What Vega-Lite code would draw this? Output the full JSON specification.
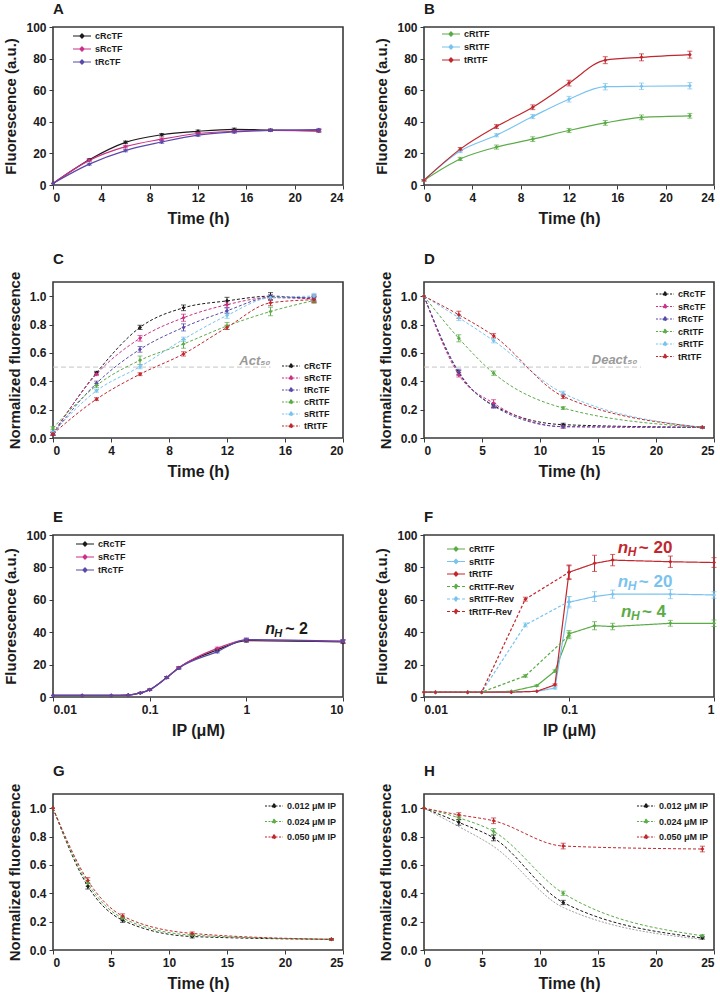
{
"$schema": "https://vega.github.io/schema/vega-lite/v6.json",
"padding": {"left": 3, "top": 1, "right": 5, "bottom": 2},
"bounds": "flush",
"columns": 2,
"spacing": {"row": 97, "column": 81},
"resolve": {"scale": {"color": "independent", "strokeDash": "independent"}, "legend": {"color": "independent", "strokeDash": "independent"}},
"datasets": {
"A": [
{"s":"cRcTF","x":0,"y":1,"e":0},{"s":"cRcTF","x":3,"y":16,"e":0.6},{"s":"cRcTF","x":6,"y":27,"e":0.8},{"s":"cRcTF","x":9,"y":31.8,"e":0.8},{"s":"cRcTF","x":12,"y":34,"e":0.8},{"s":"cRcTF","x":15,"y":35.2,"e":0.8},{"s":"cRcTF","x":18,"y":34.8,"e":0.6},{"s":"cRcTF","x":22,"y":34.3,"e":0.8},
{"s":"sRcTF","x":0,"y":1,"e":0},{"s":"sRcTF","x":3,"y":15.6,"e":0.6},{"s":"sRcTF","x":6,"y":24.3,"e":0.8},{"s":"sRcTF","x":9,"y":29,"e":0.8},{"s":"sRcTF","x":12,"y":32.6,"e":0.8},{"s":"sRcTF","x":15,"y":34,"e":0.8},{"s":"sRcTF","x":18,"y":34.6,"e":0.6},{"s":"sRcTF","x":22,"y":34.3,"e":0.8},
{"s":"tRcTF","x":0,"y":1,"e":0},{"s":"tRcTF","x":3,"y":13.2,"e":0.6},{"s":"tRcTF","x":6,"y":21.8,"e":0.8},{"s":"tRcTF","x":9,"y":27.2,"e":0.8},{"s":"tRcTF","x":12,"y":31.6,"e":0.8},{"s":"tRcTF","x":15,"y":33.6,"e":0.8},{"s":"tRcTF","x":18,"y":34.6,"e":0.6},{"s":"tRcTF","x":22,"y":35,"e":0.8}
],
"B": [
{"s":"cRtTF","x":0,"y":3,"e":0.5},{"s":"cRtTF","x":3,"y":16.5,"e":1},{"s":"cRtTF","x":6,"y":24,"e":1.3},{"s":"cRtTF","x":9,"y":29,"e":1.5},{"s":"cRtTF","x":12,"y":34.5,"e":1.3},{"s":"cRtTF","x":15,"y":39.3,"e":1.5},{"s":"cRtTF","x":18,"y":42.8,"e":1.5},{"s":"cRtTF","x":22,"y":43.8,"e":1.5},
{"s":"sRtTF","x":0,"y":3,"e":0.5},{"s":"sRtTF","x":3,"y":21.5,"e":1},{"s":"sRtTF","x":6,"y":31.5,"e":1},{"s":"sRtTF","x":9,"y":43.3,"e":1.3},{"s":"sRtTF","x":12,"y":54.3,"e":1.8},{"s":"sRtTF","x":15,"y":62.2,"e":2},{"s":"sRtTF","x":18,"y":62.5,"e":2},{"s":"sRtTF","x":22,"y":62.8,"e":2},
{"s":"tRtTF","x":0,"y":3,"e":0.5},{"s":"tRtTF","x":3,"y":22.7,"e":1},{"s":"tRtTF","x":6,"y":37,"e":1.2},{"s":"tRtTF","x":9,"y":49.2,"e":1.5},{"s":"tRtTF","x":12,"y":64.5,"e":1.8},{"s":"tRtTF","x":15,"y":79,"e":2.2},{"s":"tRtTF","x":18,"y":80.8,"e":2.2},{"s":"tRtTF","x":22,"y":82.5,"e":2.2}
],
"C": [
{"s":"cRcTF","x":0,"y":0.03,"e":0.01},{"s":"cRcTF","x":3,"y":0.46,"e":0.01},{"s":"cRcTF","x":6,"y":0.78,"e":0.015},{"s":"cRcTF","x":9,"y":0.918,"e":0.02},{"s":"cRcTF","x":12,"y":0.967,"e":0.025},{"s":"cRcTF","x":15,"y":1.0,"e":0.025},{"s":"cRcTF","x":18,"y":0.98,"e":0.02},
{"s":"sRcTF","x":0,"y":0.03,"e":0.01},{"s":"sRcTF","x":3,"y":0.45,"e":0.01},{"s":"sRcTF","x":6,"y":0.703,"e":0.02},{"s":"sRcTF","x":9,"y":0.848,"e":0.025},{"s":"sRcTF","x":12,"y":0.94,"e":0.02},{"s":"sRcTF","x":15,"y":0.99,"e":0.02},{"s":"sRcTF","x":18,"y":0.98,"e":0.02},
{"s":"tRcTF","x":0,"y":0.03,"e":0.01},{"s":"tRcTF","x":3,"y":0.386,"e":0.015},{"s":"tRcTF","x":6,"y":0.625,"e":0.02},{"s":"tRcTF","x":9,"y":0.78,"e":0.025},{"s":"tRcTF","x":12,"y":0.897,"e":0.02},{"s":"tRcTF","x":15,"y":0.99,"e":0.02},{"s":"tRcTF","x":18,"y":0.99,"e":0.02},
{"s":"cRtTF","x":0,"y":0.07,"e":0.01},{"s":"cRtTF","x":3,"y":0.37,"e":0.015},{"s":"cRtTF","x":6,"y":0.548,"e":0.03},{"s":"cRtTF","x":9,"y":0.663,"e":0.03},{"s":"cRtTF","x":12,"y":0.79,"e":0.025},{"s":"cRtTF","x":15,"y":0.892,"e":0.03},{"s":"cRtTF","x":18,"y":0.97,"e":0.02},
{"s":"sRtTF","x":0,"y":0.04,"e":0.01},{"s":"sRtTF","x":3,"y":0.333,"e":0.01},{"s":"sRtTF","x":6,"y":0.503,"e":0.015},{"s":"sRtTF","x":9,"y":0.696,"e":0.015},{"s":"sRtTF","x":12,"y":0.864,"e":0.02},{"s":"sRtTF","x":15,"y":0.99,"e":0.02},{"s":"sRtTF","x":18,"y":1.0,"e":0.02},
{"s":"tRtTF","x":0,"y":0.03,"e":0.01},{"s":"tRtTF","x":3,"y":0.274,"e":0.01},{"s":"tRtTF","x":6,"y":0.45,"e":0.01},{"s":"tRtTF","x":9,"y":0.593,"e":0.015},{"s":"tRtTF","x":12,"y":0.78,"e":0.015},{"s":"tRtTF","x":15,"y":0.953,"e":0.02},{"s":"tRtTF","x":18,"y":0.975,"e":0.02}
],
"D": [
{"s":"cRcTF","x":0,"y":1,"e":0},{"s":"cRcTF","x":3,"y":0.46,"e":0.015},{"s":"cRcTF","x":6,"y":0.23,"e":0.015},{"s":"cRcTF","x":12,"y":0.094,"e":0.01},{"s":"cRcTF","x":24,"y":0.075,"e":0.005},
{"s":"sRcTF","x":0,"y":1,"e":0},{"s":"sRcTF","x":3,"y":0.445,"e":0.015},{"s":"sRcTF","x":6,"y":0.245,"e":0.025},{"s":"sRcTF","x":12,"y":0.08,"e":0.01},{"s":"sRcTF","x":24,"y":0.075,"e":0.005},
{"s":"tRcTF","x":0,"y":1,"e":0},{"s":"tRcTF","x":3,"y":0.465,"e":0.02},{"s":"tRcTF","x":6,"y":0.225,"e":0.015},{"s":"tRcTF","x":12,"y":0.08,"e":0.01},{"s":"tRcTF","x":24,"y":0.075,"e":0.005},
{"s":"cRtTF","x":0,"y":1,"e":0},{"s":"cRtTF","x":3,"y":0.703,"e":0.025},{"s":"cRtTF","x":6,"y":0.457,"e":0.015},{"s":"cRtTF","x":12,"y":0.211,"e":0.01},{"s":"cRtTF","x":24,"y":0.075,"e":0.005},
{"s":"sRtTF","x":0,"y":1,"e":0},{"s":"sRtTF","x":3,"y":0.848,"e":0.02},{"s":"sRtTF","x":6,"y":0.686,"e":0.015},{"s":"sRtTF","x":12,"y":0.315,"e":0.015},{"s":"sRtTF","x":24,"y":0.075,"e":0.005},
{"s":"tRtTF","x":0,"y":1,"e":0},{"s":"tRtTF","x":3,"y":0.869,"e":0.025},{"s":"tRtTF","x":6,"y":0.721,"e":0.015},{"s":"tRtTF","x":12,"y":0.293,"e":0.015},{"s":"tRtTF","x":24,"y":0.075,"e":0.005}
],
"E": [
{"s":"cRcTF","x":0.01,"y":1,"e":0},{"s":"cRcTF","x":0.02,"y":1,"e":0},{"s":"cRcTF","x":0.04,"y":1,"e":0},{"s":"cRcTF","x":0.06,"y":1.2,"e":0},{"s":"cRcTF","x":0.08,"y":2.5,"e":0.3},{"s":"cRcTF","x":0.1,"y":4.5,"e":0.4},{"s":"cRcTF","x":0.15,"y":12,"e":0.6},{"s":"cRcTF","x":0.2,"y":18,"e":0.6},{"s":"cRcTF","x":0.5,"y":29,"e":0.8},{"s":"cRcTF","x":1,"y":34.8,"e":1},{"s":"cRcTF","x":10,"y":34,"e":1},
{"s":"sRcTF","x":0.01,"y":1,"e":0},{"s":"sRcTF","x":0.02,"y":1,"e":0},{"s":"sRcTF","x":0.04,"y":1,"e":0},{"s":"sRcTF","x":0.06,"y":1.2,"e":0},{"s":"sRcTF","x":0.08,"y":2.5,"e":0.3},{"s":"sRcTF","x":0.1,"y":4.5,"e":0.4},{"s":"sRcTF","x":0.15,"y":12,"e":0.6},{"s":"sRcTF","x":0.2,"y":18,"e":0.6},{"s":"sRcTF","x":0.5,"y":30,"e":0.8},{"s":"sRcTF","x":1,"y":35.2,"e":1},{"s":"sRcTF","x":10,"y":34.3,"e":1},
{"s":"tRcTF","x":0.01,"y":1,"e":0},{"s":"tRcTF","x":0.02,"y":1,"e":0},{"s":"tRcTF","x":0.04,"y":1,"e":0},{"s":"tRcTF","x":0.06,"y":1.2,"e":0},{"s":"tRcTF","x":0.08,"y":2.5,"e":0.3},{"s":"tRcTF","x":0.1,"y":4.5,"e":0.4},{"s":"tRcTF","x":0.15,"y":12,"e":0.6},{"s":"tRcTF","x":0.2,"y":17.8,"e":0.6},{"s":"tRcTF","x":0.5,"y":28,"e":0.8},{"s":"tRcTF","x":1,"y":35.4,"e":1},{"s":"tRcTF","x":10,"y":34.5,"e":1}
],
"F": [
{"s":"cRtTF","x":0.01,"y":3,"e":0},{"s":"cRtTF","x":0.012,"y":3,"e":0},{"s":"cRtTF","x":0.02,"y":3,"e":0},{"s":"cRtTF","x":0.025,"y":3,"e":0},{"s":"cRtTF","x":0.04,"y":3.5,"e":0},{"s":"cRtTF","x":0.06,"y":7,"e":0.5},{"s":"cRtTF","x":0.08,"y":16,"e":0.8},{"s":"cRtTF","x":0.1,"y":39,"e":2},{"s":"cRtTF","x":0.15,"y":44,"e":2.5},{"s":"cRtTF","x":0.2,"y":43.5,"e":2},{"s":"cRtTF","x":0.5,"y":45.5,"e":1.8},{"s":"cRtTF","x":1,"y":45.5,"e":2},
{"s":"sRtTF","x":0.01,"y":3,"e":0},{"s":"sRtTF","x":0.012,"y":3,"e":0},{"s":"sRtTF","x":0.02,"y":3,"e":0},{"s":"sRtTF","x":0.025,"y":3,"e":0},{"s":"sRtTF","x":0.04,"y":3,"e":0},{"s":"sRtTF","x":0.06,"y":3.5,"e":0},{"s":"sRtTF","x":0.08,"y":5.5,"e":0.6},{"s":"sRtTF","x":0.1,"y":58.5,"e":3.5},{"s":"sRtTF","x":0.15,"y":62,"e":3},{"s":"sRtTF","x":0.2,"y":63.5,"e":2.5},{"s":"sRtTF","x":0.5,"y":63.5,"e":2.8},{"s":"sRtTF","x":1,"y":63,"e":2},
{"s":"tRtTF","x":0.01,"y":3,"e":0},{"s":"tRtTF","x":0.012,"y":3,"e":0},{"s":"tRtTF","x":0.02,"y":3,"e":0},{"s":"tRtTF","x":0.025,"y":3,"e":0},{"s":"tRtTF","x":0.04,"y":3,"e":0},{"s":"tRtTF","x":0.06,"y":3.5,"e":0},{"s":"tRtTF","x":0.08,"y":7.5,"e":0.6},{"s":"tRtTF","x":0.1,"y":77,"e":4.5},{"s":"tRtTF","x":0.15,"y":82.5,"e":5},{"s":"tRtTF","x":0.2,"y":84.5,"e":3.5},{"s":"tRtTF","x":0.5,"y":83.5,"e":3.5},{"s":"tRtTF","x":1,"y":83,"e":3},
{"s":"cRtTF-Rev","x":0.01,"y":3,"e":0},{"s":"cRtTF-Rev","x":0.012,"y":3,"e":0},{"s":"cRtTF-Rev","x":0.02,"y":3,"e":0},{"s":"cRtTF-Rev","x":0.025,"y":3,"e":0},{"s":"cRtTF-Rev","x":0.05,"y":13,"e":0.8},{"s":"cRtTF-Rev","x":0.1,"y":38,"e":2},
{"s":"sRtTF-Rev","x":0.01,"y":3,"e":0},{"s":"sRtTF-Rev","x":0.012,"y":3,"e":0},{"s":"sRtTF-Rev","x":0.02,"y":3,"e":0},{"s":"sRtTF-Rev","x":0.025,"y":3,"e":0},{"s":"sRtTF-Rev","x":0.05,"y":44.5,"e":1.2},{"s":"sRtTF-Rev","x":0.1,"y":59,"e":3},
{"s":"tRtTF-Rev","x":0.01,"y":3,"e":0},{"s":"tRtTF-Rev","x":0.012,"y":3,"e":0},{"s":"tRtTF-Rev","x":0.02,"y":3,"e":0},{"s":"tRtTF-Rev","x":0.025,"y":3,"e":0},{"s":"tRtTF-Rev","x":0.05,"y":60.4,"e":1.2},{"s":"tRtTF-Rev","x":0.1,"y":77,"e":4}
],
"G": [
{"s":"0.012 μM IP","x":0,"y":1,"e":0},{"s":"0.012 μM IP","x":3,"y":0.45,"e":0.02},{"s":"0.012 μM IP","x":6,"y":0.21,"e":0.015},{"s":"0.012 μM IP","x":12,"y":0.095,"e":0.01},{"s":"0.012 μM IP","x":24,"y":0.075,"e":0.005},
{"s":"0.024 μM IP","x":0,"y":1,"e":0},{"s":"0.024 μM IP","x":3,"y":0.47,"e":0.02},{"s":"0.024 μM IP","x":6,"y":0.225,"e":0.015},{"s":"0.024 μM IP","x":12,"y":0.105,"e":0.01},{"s":"0.024 μM IP","x":24,"y":0.075,"e":0.005},
{"s":"0.050 μM IP","x":0,"y":1,"e":0},{"s":"0.050 μM IP","x":3,"y":0.49,"e":0.02},{"s":"0.050 μM IP","x":6,"y":0.24,"e":0.015},{"s":"0.050 μM IP","x":12,"y":0.117,"e":0.01},{"s":"0.050 μM IP","x":24,"y":0.075,"e":0.005}
],
"H": [
{"s":"0.012 μM IP","x":0,"y":1,"e":0},{"s":"0.012 μM IP","x":3,"y":0.9,"e":0.02},{"s":"0.012 μM IP","x":6,"y":0.79,"e":0.02},{"s":"0.012 μM IP","x":12,"y":0.335,"e":0.015},{"s":"0.012 μM IP","x":24,"y":0.085,"e":0.008},
{"s":"0.024 μM IP","x":0,"y":1,"e":0},{"s":"0.024 μM IP","x":3,"y":0.932,"e":0.015},{"s":"0.024 μM IP","x":6,"y":0.836,"e":0.02},{"s":"0.024 μM IP","x":12,"y":0.4,"e":0.015},{"s":"0.024 μM IP","x":24,"y":0.1,"e":0.008},
{"s":"0.050 μM IP","x":0,"y":1,"e":0},{"s":"0.050 μM IP","x":3,"y":0.953,"e":0.015},{"s":"0.050 μM IP","x":6,"y":0.911,"e":0.02},{"s":"0.050 μM IP","x":12,"y":0.733,"e":0.02},{"s":"0.050 μM IP","x":24,"y":0.712,"e":0.02}
],
"Hgray": [{"x":0,"y":1},{"x":3,"y":0.87},{"x":6,"y":0.73},{"x":12,"y":0.3},{"x":24,"y":0.075}],
"Cref": [{"x":0,"x2":15,"y":0.5,"t":"Act₅₀","tx":15,"ty":0.515}],
"Dref": [{"x":0,"x2":18.7,"y":0.5,"t":"Deact₅₀","tx":18.4,"ty":0.52}],
"Enh": [{"x":1.57,"y":39,"lab":"~ 2"}],
"Fnh": [{"s":"tRtTF","x":0.217,"y":88.7,"lab":"~ 20"},{"s":"sRtTF","x":0.217,"y":68.2,"lab":"~ 20"},{"s":"cRtTF","x":0.228,"y":49.2,"lab":"~ 4"}]
},
"concat": [
{
"title": "A", "width": 290, "height": 158, "data": {"name": "A"},
"encoding": {
 "x": {"field":"x","type":"quantitative","scale":{"domain":[0,24]},"axis":{"values":[0,4,8,12,16,20,24],"title":"Time (h)"}},
 "y": {"field":"y","type":"quantitative","scale":{"domain":[0,100]},"axis":{"values":[0,20,40,60,80,100],"title":"Fluorescence (a.u.)"}},
 "color": {"field":"s","type":"nominal","scale":{"domain":["cRcTF","sRcTF","tRcTF"],"range":["#1b1b1b","#cc2f86","#5949a8"]},"legend":{"legendX":22,"legendY":2}}
},
"layer": [
 {"mark": {"type":"line","interpolate":"monotone","strokeWidth":1.2}},
 {"transform":[{"filter":"datum.e > 0"}],"mark":{"type":"errorbar","ticks":true},"encoding":{"yError":{"field":"e"}}},
 {"mark": {"type":"point","shape":"diamond","filled":true,"size":16,"opacity":1}}
]
},
{
"title": "B", "width": 290, "height": 158, "data": {"name": "B"},
"encoding": {
 "x": {"field":"x","type":"quantitative","scale":{"domain":[0,24]},"axis":{"values":[0,4,8,12,16,20,24],"title":"Time (h)"}},
 "y": {"field":"y","type":"quantitative","scale":{"domain":[0,100]},"axis":{"values":[0,20,40,60,80,100],"title":"Fluorescence (a.u.)"}},
 "color": {"field":"s","type":"nominal","scale":{"domain":["cRtTF","sRtTF","tRtTF"],"range":["#5bab47","#79c3ee","#c1272d"]},"legend":{"legendX":20,"legendY":0}}
},
"layer": [
 {"mark": {"type":"line","interpolate":"monotone","strokeWidth":1.2}},
 {"transform":[{"filter":"datum.e > 0"}],"mark":{"type":"errorbar","ticks":true},"encoding":{"yError":{"field":"e"}}},
 {"mark": {"type":"point","shape":"diamond","filled":true,"size":16,"opacity":1}}
]
},
{
"title": "C", "width": 290, "height": 156, "data": {"name": "C"},
"encoding": {
 "x": {"field":"x","type":"quantitative","scale":{"domain":[0,20]},"axis":{"values":[0,4,8,12,16,20],"title":"Time (h)"}},
 "y": {"field":"y","type":"quantitative","scale":{"domain":[0,1.1]},"axis":{"values":[0,0.2,0.4,0.6,0.8,1.0],"format":".1f","title":"Normalized fluorescence"}},
 "color": {"field":"s","type":"nominal","scale":{"domain":["cRcTF","sRcTF","tRcTF","cRtTF","sRtTF","tRtTF"],"range":["#1b1b1b","#cc2f86","#5949a8","#5bab47","#79c3ee","#c1272d"]},"legend":{"legendX":231,"legendY":77,"rowPadding":0,"symbolDash":[2,1.5]}}
},
"layer": [
 {"data":{"name":"Cref"},"mark":{"type":"rule","strokeDash":[5,3],"strokeWidth":1},"encoding":{"x":{"field":"x","type":"quantitative"},"x2":{"field":"x2"},"y":{"field":"y","type":"quantitative"},"color":{"value":"#c4c4c4"}}},
 {"data":{"name":"Cref"},"mark":{"type":"text","align":"right","baseline":"alphabetic","fontSize":13,"fontStyle":"italic","fontWeight":"bold"},"encoding":{"x":{"field":"tx","type":"quantitative"},"y":{"field":"ty","type":"quantitative"},"text":{"field":"t"},"color":{"value":"#9a9a9a"}}},
 {"mark": {"type":"line","interpolate":"monotone","strokeWidth":1,"strokeDash":[3,2]}},
 {"transform":[{"filter":"datum.e > 0"}],"mark":{"type":"errorbar","ticks":true},"encoding":{"yError":{"field":"e"}}},
 {"mark": {"type":"point","shape":"diamond","filled":true,"size":16,"opacity":1}}
]
},
{
"title": "D", "width": 290, "height": 156, "data": {"name": "D"},
"encoding": {
 "x": {"field":"x","type":"quantitative","scale":{"domain":[0,25]},"axis":{"values":[0,5,10,15,20,25],"title":"Time (h)"}},
 "y": {"field":"y","type":"quantitative","scale":{"domain":[0,1.1]},"axis":{"values":[0,0.2,0.4,0.6,0.8,1.0],"format":".1f","title":"Normalized fluorescence"}},
 "color": {"field":"s","type":"nominal","scale":{"domain":["cRcTF","sRcTF","tRcTF","cRtTF","sRtTF","tRtTF"],"range":["#1b1b1b","#cc2f86","#5949a8","#5bab47","#79c3ee","#c1272d"]},"legend":{"legendX":234,"legendY":5,"rowPadding":0.5,"symbolDash":[2,1.5]}}
},
"layer": [
 {"data":{"name":"Dref"},"mark":{"type":"rule","strokeDash":[5,3],"strokeWidth":1},"encoding":{"x":{"field":"x","type":"quantitative"},"x2":{"field":"x2"},"y":{"field":"y","type":"quantitative"},"color":{"value":"#c4c4c4"}}},
 {"data":{"name":"Dref"},"mark":{"type":"text","align":"right","baseline":"alphabetic","fontSize":13,"fontStyle":"italic","fontWeight":"bold"},"encoding":{"x":{"field":"tx","type":"quantitative"},"y":{"field":"ty","type":"quantitative"},"text":{"field":"t"},"color":{"value":"#9a9a9a"}}},
 {"mark": {"type":"line","interpolate":"monotone","strokeWidth":1,"strokeDash":[3,2]}},
 {"transform":[{"filter":"datum.e > 0"}],"mark":{"type":"errorbar","ticks":true},"encoding":{"yError":{"field":"e"}}},
 {"mark": {"type":"point","shape":"diamond","filled":true,"size":16,"opacity":1}}
]
},
{
"title": "E", "width": 290, "height": 162, "data": {"name": "E"},
"encoding": {
 "x": {"field":"x","type":"quantitative","scale":{"type":"log","domain":[0.01,10]},"axis":{"values":[0.01,0.1,1,10],"format":"~g","title":"IP (μM)"}},
 "y": {"field":"y","type":"quantitative","scale":{"domain":[0,100]},"axis":{"values":[0,20,40,60,80,100],"title":"Fluorescence (a.u.)"}},
 "color": {"field":"s","type":"nominal","scale":{"domain":["cRcTF","sRcTF","tRcTF"],"range":["#1b1b1b","#cc2f86","#5949a8"]},"legend":{"legendX":25,"legendY":2}}
},
"layer": [
 {"mark": {"type":"line","interpolate":"monotone","strokeWidth":1.2}},
 {"transform":[{"filter":"datum.e > 0"}],"mark":{"type":"errorbar","ticks":true},"encoding":{"yError":{"field":"e"}}},
 {"mark": {"type":"point","shape":"diamond","filled":true,"size":16,"opacity":1}},
 {"data":{"name":"Enh"},"mark":{"type":"text","text":"n","align":"left","baseline":"alphabetic","fontSize":16,"fontStyle":"italic","fontWeight":"bold"},"encoding":{"color":{"value":"#1b1b1b"}}},
 {"data":{"name":"Enh"},"mark":{"type":"text","text":"H","align":"left","baseline":"alphabetic","fontSize":11,"fontStyle":"italic","fontWeight":"bold","dx":9,"dy":3},"encoding":{"color":{"value":"#1b1b1b"}}},
 {"data":{"name":"Enh"},"mark":{"type":"text","align":"left","baseline":"alphabetic","fontSize":16,"fontWeight":"bold","dx":20},"encoding":{"text":{"field":"lab"},"color":{"value":"#1b1b1b"}}}
]
},
{
"title": "F", "width": 290, "height": 162, "data": {"name": "F"},
"encoding": {
 "x": {"field":"x","type":"quantitative","scale":{"type":"log","domain":[0.01,1]},"axis":{"values":[0.01,0.1,1],"format":"~g","title":"IP (μM)"}},
 "y": {"field":"y","type":"quantitative","scale":{"domain":[0,100]},"axis":{"values":[0,20,40,60,80,100],"title":"Fluorescence (a.u.)"}},
 "color": {"field":"s","type":"nominal","scale":{"domain":["cRtTF","sRtTF","tRtTF","cRtTF-Rev","sRtTF-Rev","tRtTF-Rev"],"range":["#5bab47","#79c3ee","#c1272d","#5bab47","#79c3ee","#c1272d"]},"legend":{"legendX":25,"legendY":7,"rowPadding":0.5}}
},
"layer": [
 {"mark": {"type":"line","strokeWidth":1.2},"encoding":{"strokeDash":{"field":"s","type":"nominal","scale":{"domain":["cRtTF","sRtTF","tRtTF","cRtTF-Rev","sRtTF-Rev","tRtTF-Rev"],"range":[[1,0],[1,0],[1,0],[3,2],[3,2],[3,2]]},"legend":{"legendX":25,"legendY":7,"rowPadding":0.5}}}},
 {"transform":[{"filter":"datum.e > 0"}],"mark":{"type":"errorbar","ticks":true},"encoding":{"yError":{"field":"e"}}},
 {"mark": {"type":"point","shape":"diamond","filled":true,"size":16,"opacity":1}},
 {"data":{"name":"Fnh"},"mark":{"type":"text","text":"n","align":"left","baseline":"alphabetic","fontSize":17,"fontStyle":"italic","fontWeight":"bold"}},
 {"data":{"name":"Fnh"},"mark":{"type":"text","text":"H","align":"left","baseline":"alphabetic","fontSize":12,"fontStyle":"italic","fontWeight":"bold","dx":10,"dy":3}},
 {"data":{"name":"Fnh"},"mark":{"type":"text","align":"left","baseline":"alphabetic","fontSize":17,"fontWeight":"bold","dx":21},"encoding":{"text":{"field":"lab"}}}
]
},
{
"title": "G", "width": 290, "height": 156, "data": {"name": "G"},
"encoding": {
 "x": {"field":"x","type":"quantitative","scale":{"domain":[0,25]},"axis":{"values":[0,5,10,15,20,25],"title":"Time (h)"}},
 "y": {"field":"y","type":"quantitative","scale":{"domain":[0,1.1]},"axis":{"values":[0,0.2,0.4,0.6,0.8,1.0],"format":".1f","title":"Normalized fluorescence"}},
 "color": {"field":"s","type":"nominal","scale":{"domain":["0.012 μM IP","0.024 μM IP","0.050 μM IP"],"range":["#1b1b1b","#5bab47","#c1272d"]},"legend":{"legendX":214,"legendY":5,"rowPadding":3.5,"symbolDash":[2,1.5]}}
},
"layer": [
 {"mark": {"type":"line","interpolate":"monotone","strokeWidth":1,"strokeDash":[3,2]}},
 {"transform":[{"filter":"datum.e > 0"}],"mark":{"type":"errorbar","ticks":true},"encoding":{"yError":{"field":"e"}}},
 {"mark": {"type":"point","shape":"diamond","filled":true,"size":16,"opacity":1}}
]
},
{
"title": "H", "width": 290, "height": 156, "data": {"name": "H"},
"encoding": {
 "x": {"field":"x","type":"quantitative","scale":{"domain":[0,25]},"axis":{"values":[0,5,10,15,20,25],"title":"Time (h)"}},
 "y": {"field":"y","type":"quantitative","scale":{"domain":[0,1.1]},"axis":{"values":[0,0.2,0.4,0.6,0.8,1.0],"format":".1f","title":"Normalized fluorescence"}},
 "color": {"field":"s","type":"nominal","scale":{"domain":["0.012 μM IP","0.024 μM IP","0.050 μM IP"],"range":["#1b1b1b","#5bab47","#c1272d"]},"legend":{"legendX":215,"legendY":5,"rowPadding":3.5,"symbolDash":[2,1.5]}}
},
"layer": [
 {"data":{"name":"Hgray"},"mark":{"type":"line","interpolate":"monotone","strokeWidth":1,"strokeDash":[2,1.5]},"encoding":{"color":{"value":"#a0a0a0"}}},
 {"mark": {"type":"line","interpolate":"monotone","strokeWidth":1,"strokeDash":[3,2]}},
 {"transform":[{"filter":"datum.e > 0"}],"mark":{"type":"errorbar","ticks":true},"encoding":{"yError":{"field":"e"}}},
 {"mark": {"type":"point","shape":"diamond","filled":true,"size":16,"opacity":1}}
]
}
],
"config": {
 "font": "Liberation Sans",
 "view": {"stroke": "#3a3a3a", "strokeWidth": 1.6},
 "axis": {"domain": false, "grid": false, "ticks": true, "tickSize": 4, "tickColor": "#3a3a3a", "labelFontSize": 12, "labelFontWeight": "bold", "labelColor": "#1b1b1b", "labelPadding": 3, "titleFontSize": 16, "titleFontWeight": "bold", "titleColor": "#1b1b1b"},
 "axisX": {"titlePadding": 7},
 "axisY": {"titlePadding": 7, "titleFontSize": 15},
 "title": {"fontSize": 15, "fontWeight": "bold", "anchor": "start", "frame": "group", "offset": 4, "color": "#1b1b1b"},
 "legend": {"orient": "none", "title": null, "padding": 0, "labelFontSize": 9, "labelFontWeight": "bold", "labelColor": "#1b1b1b", "symbolType": "M-1.5,0H1.5M0,-0.35L0.35,0L0,0.35L-0.35,0Z", "symbolSize": 144, "symbolStrokeWidth": 1.2, "symbolOpacity": 1, "labelOffset": 6, "rowPadding": 1}
}
}
